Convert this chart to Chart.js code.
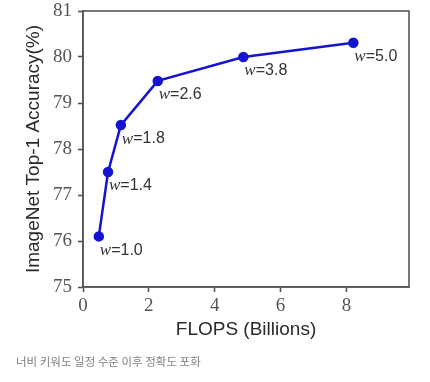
<!DOCTYPE html>
<html>
<head>
<meta charset="utf-8">
<script src="https://cdn.jsdelivr.net/npm/chart.js@4/dist/chart.umd.min.js"></script>
<style>
  html, body { margin: 0; padding: 0; background: #fff; }
  #wrap { position: relative; width: 430px; height: 382px; }
  #c { position: absolute; left: 0; top: 0; }
  #cap { position: absolute; left: 16px; top: 353px; font-family: "Noto Sans CJK KR", sans-serif; font-size: 11.5px; color: #808080; white-space: nowrap; }
</style>
</head>
<body>
<div id="wrap">
  <canvas id="c" width="430" height="382"></canvas>
  <div id="cap">너비 키워도 일정 수준 이후 정확도 포화</div>
</div>
<script>
const flops = [0.48, 0.76, 1.15, 2.27, 4.87, 8.21];
const accuracy = [76.1, 77.5, 78.52, 79.48, 80.0, 80.31];
const widthLabels = ["1.0", "1.4", "1.8", "2.6", "3.8", "5.0"];
const xTicks = [0, 2, 4, 6, 8];
const yTicks = [75, 76, 77, 78, 79, 80, 81];

const points = flops.map((x, i) => ({ x: x, y: accuracy[i] }));

const labelPlugin = {
  id: 'wlabels',
  afterDatasetsDraw(chart) {
    const ctx = chart.ctx;
    const xs = chart.scales.x, ys = chart.scales.y;
    ctx.save();
    ctx.fillStyle = '#333';
    ctx.textBaseline = 'middle';
    ctx.textAlign = 'left';
    points.forEach((p, i) => {
      const px = xs.getPixelForValue(p.x) + 1;
      const py = ys.getPixelForValue(p.y) + 14;
      ctx.font = 'italic 17px "Liberation Serif", serif';
      ctx.fillText('w', px, py);
      const w = ctx.measureText('w').width;
      ctx.font = '16px "Liberation Sans", Arial, sans-serif';
      ctx.fillText('=' + widthLabels[i], px + w, py);
    });
    ctx.restore();
  }
};

const framePlugin = {
  id: 'frame',
  afterDraw(chart) {
    const a = chart.chartArea;
    const ctx = chart.ctx;
    ctx.save();
    ctx.strokeStyle = '#555';
    ctx.lineWidth = 1.6;
    ctx.strokeRect(a.left, a.top, a.right - a.left, a.bottom - a.top);
    ctx.restore();
  }
};

new Chart(document.getElementById('c'), {
  type: 'scatter',
  data: {
    datasets: [{
      data: points,
      showLine: true,
      borderColor: '#1414d0',
      backgroundColor: '#1414d0',
      borderWidth: 2.5,
      pointRadius: 4,
      pointHoverRadius: 4,
      tension: 0
    }]
  },
  options: {
    responsive: false,
    animation: false,
    events: [],
    layout: { padding: { left: 0, top: 11, right: 21, bottom: 35 } },
    plugins: { legend: { display: false }, tooltip: { enabled: false } },
    scales: {
      x: {
        type: 'linear',
        min: 0, max: 9.9,
        afterBuildTicks(s) { s.ticks = xTicks.map(v => ({ value: v })); },
        afterFit(s) { s.height = 60; s.paddingLeft = 0; s.paddingRight = 0; },
        grid: { drawOnChartArea: false, drawTicks: true, tickLength: 5, color: '#555', tickWidth: 1.6 },
        border: { display: true, color: '#555', width: 1.6 },
        ticks: { color: '#555', padding: 3, font: { family: '"Liberation Serif", serif', size: 19 }, maxRotation: 0 },
        title: { display: true, text: 'FLOPS (Billions)', color: '#2a2a2a', font: { family: '"Liberation Sans", Arial, sans-serif', size: 19 }, padding: { top: 0, bottom: 6 } }
      },
      y: {
        type: 'linear',
        min: 75, max: 81,
        afterBuildTicks(s) { s.ticks = yTicks.map(v => ({ value: v })); },
        afterFit(s) { s.width = 83; s.paddingTop = 0; s.paddingBottom = 0; },
        grid: { drawOnChartArea: false, drawTicks: true, tickLength: 5, color: '#555', tickWidth: 1.6 },
        border: { display: true, color: '#555', width: 1.6 },
        ticks: { color: '#555', padding: 6, font: { family: '"Liberation Serif", serif', size: 19 } },
        title: { display: true, text: 'ImageNet Top-1 Accuracy(%)', color: '#2a2a2a', font: { family: '"Liberation Sans", Arial, sans-serif', size: 19 }, padding: { top: 22, bottom: 0 } }
      }
    }
  },
  plugins: [labelPlugin, framePlugin]
});
</script>
</body>
</html>
